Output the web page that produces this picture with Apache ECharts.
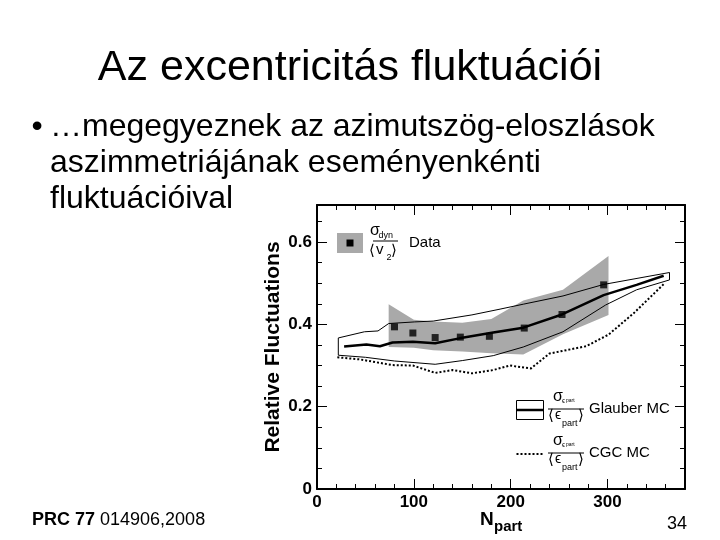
<!DOCTYPE html>
<html>
<head>
<meta charset="utf-8">
<script src="https://cdn.jsdelivr.net/npm/echarts@6/dist/echarts.min.js"></script>
<style>
  html, body { margin: 0; padding: 0; background: #fff; }
  #chart { width: 720px; height: 540px; }
</style>
</head>
<body>
<div id="chart"></div>
<script>
// data (N_part vs relative fluctuations)
var dataX = [80, 99, 122, 148, 178, 214, 253, 296];
var dataY = [0.394, 0.379, 0.368, 0.369, 0.371, 0.391, 0.424, 0.496];
// grey systematic band around the data
var sysX = [74, 100, 120, 150, 180, 213, 254, 301];
var sysHigh = [0.449, 0.411, 0.407, 0.404, 0.413, 0.458, 0.484, 0.566];
var sysLow = [0.345, 0.343, 0.337, 0.334, 0.330, 0.327, 0.376, 0.423];
// Glauber MC: mean line and band edges
var glauberX = [28, 51, 65, 78, 99, 122, 147, 182, 213, 253, 296, 330, 358];
var glauberMean = [0.346, 0.351, 0.347, 0.356, 0.358, 0.354, 0.366, 0.380, 0.392, 0.424, 0.471, 0.496, 0.518];
var glauberUpX = [22, 49, 63, 74, 101, 120, 160, 189, 213, 254, 296, 364];
var glauberUp = [0.367, 0.382, 0.384, 0.402, 0.406, 0.408, 0.423, 0.437, 0.449, 0.469, 0.497, 0.526];
var glauberLowX = [22, 50, 80, 122, 150, 182, 213, 254, 298, 330, 364];
var glauberLow = [0.325, 0.320, 0.311, 0.303, 0.312, 0.324, 0.345, 0.382, 0.447, 0.484, 0.508];
// CGC MC
var cgcX = [21, 44, 78, 99, 122, 140, 160, 182, 199, 221, 240, 278, 301, 327, 359];
var cgcY = [0.320, 0.315, 0.301, 0.300, 0.282, 0.289, 0.281, 0.289, 0.300, 0.293, 0.329, 0.347, 0.375, 0.427, 0.500];

var xTicks = [0, 100, 200, 300];
var yTicks = [0, 0.2, 0.4, 0.6];

var X_MAX = 380;
var Y_MAX = 0.69;
var FONT = '"Liberation Sans", Arial, Helvetica, sans-serif';
var MATH = '"Liberation Sans", "DejaVu Sans", sans-serif';

function pairs(xs, ys) {
    var out = [];
    for (var i = 0; i < xs.length; ++i) {
        out.push([xs[i], ys[i]]);
    }
    return out;
}

function makeX(position, interval, tickLen, main) {
    return {
        type: 'value', min: 0, max: X_MAX, interval: interval, position: position,
        axisLine: { show: main, onZero: false, lineStyle: { color: '#000', width: 2 } },
        axisTick: { show: true, inside: true, length: tickLen, lineStyle: { color: '#000', width: 1 } },
        axisLabel: { show: false },
        splitLine: { show: false }
    };
}
function makeY(position, interval, tickLen, main) {
    return {
        type: 'value', min: 0, max: Y_MAX, interval: interval, position: position,
        axisLine: { show: main, onZero: false, lineStyle: { color: '#000', width: 2 } },
        axisTick: { show: true, inside: true, length: tickLen, lineStyle: { color: '#000', width: 1 } },
        axisLabel: { show: false },
        splitLine: { show: false }
    };
}

var xMain = makeX('bottom', 100, 10, true);
xMain.axisLabel = {
    show: true, margin: 5, color: '#000', fontFamily: FONT, fontWeight: 'bold', fontSize: 17,
    showMaxLabel: false,
    formatter: function (v) { return xTicks.indexOf(v) >= 0 ? String(v) : ''; }
};
var yMain = makeY('left', 0.2, 10, true);
yMain.axisLabel = {
    show: true, margin: 5, color: '#000', fontFamily: FONT, fontWeight: 'bold', fontSize: 17,
    showMaxLabel: false,
    formatter: function (v) {
        for (var i = 0; i < yTicks.length; ++i) {
            if (Math.abs(v - yTicks[i]) < 1e-6) return v === 0 ? '0' : v.toFixed(1);
        }
        return '';
    }
};
yMain.name = 'Relative Fluctuations';
yMain.nameLocation = 'middle';
yMain.nameRotate = 90;
yMain.nameGap = 33;
yMain.nameMoveOverlap = false;
yMain.nameTextStyle = { color: '#000', fontFamily: FONT, fontWeight: 'bold', fontSize: 21 };

function txt(x, y, s, size, extra) {
    var style = { text: s, fontSize: size, fontFamily: FONT, fill: '#000', align: 'left', verticalAlign: 'middle' };
    for (var k in extra) style[k] = extra[k];
    return { type: 'text', x: x, y: y, z: 100, style: style };
}
function hline(x1, x2, y, w, dash) {
    return {
        type: 'line', z: 100,
        shape: { x1: x1, y1: y, x2: x2, y2: y },
        style: { stroke: '#000', lineWidth: w, lineDash: dash || null }
    };
}
// sigma_eps_part / <eps_part> with bar at height yb
function epsFrac(yb) {
    return [
        txt(553, yb - 12, 'σ', 16, { fontFamily: MATH }),
        txt(562, yb - 8, 'ϵ', 7, { fontFamily: MATH }),
        txt(566, yb - 8, 'part', 5),
        hline(548, 584, yb, 1),
        txt(548, yb + 7, '⟨', 15, { fontFamily: MATH }),
        txt(555, yb + 6, 'ϵ', 14, { fontFamily: MATH }),
        txt(562, yb + 15, 'part', 9),
        txt(578, yb + 7, '⟩', 15, { fontFamily: MATH })
    ];
}

var graphics = [
    txt(350, 68, 'Az excentricitás fluktuációi', 43, { align: 'center' }),
    txt(37, 127, '•', 32, { align: 'center' }),
    txt(50, 127, '…megegyeznek az azimutszög-eloszlások', 32),
    txt(50, 163, 'aszimmetriájának eseményenkénti', 32),
    txt(50, 199, 'fluktuációival', 32),
    {
        type: 'text', x: 32, y: 520, z: 100,
        style: {
            text: '{b|PRC 77} 014906,2008', fontSize: 18, fontFamily: FONT, fill: '#000',
            align: 'left', verticalAlign: 'middle',
            rich: { b: { fontSize: 18, fontFamily: FONT, fontWeight: 'bold', fill: '#000' } }
        }
    },
    txt(687, 524, '34', 18, { align: 'right' }),
    txt(480, 519.5, 'N', 19, { fontWeight: 'bold' }),
    txt(494, 527, 'part', 15, { fontWeight: 'bold' }),
    // data legend
    { type: 'rect', z: 100, shape: { x: 337, y: 233, width: 26, height: 20 }, style: { fill: '#a9a9a9' } },
    { type: 'rect', z: 101, shape: { x: 346.5, y: 239.5, width: 7, height: 7 }, style: { fill: '#000' } },
    txt(370, 231, 'σ', 16, { fontFamily: MATH }),
    txt(378.5, 235.5, 'dyn', 9),
    hline(373, 398, 241, 1),
    txt(369, 251, '⟨', 15, { fontFamily: MATH }),
    txt(376, 250, 'v', 15),
    txt(386.5, 258, '2', 9),
    txt(391, 251, '⟩', 15, { fontFamily: MATH }),
    txt(409, 243, 'Data', 15),
    // Glauber legend
    { type: 'rect', z: 100, shape: { x: 516.5, y: 400.5, width: 27, height: 19 }, style: { fill: null, stroke: '#000', lineWidth: 1 } },
    hline(516.5, 543.5, 410, 2.5),
    txt(589, 409, 'Glauber MC', 15),
    // CGC legend
    hline(516.5, 543.5, 454, 2, [2, 2]),
    txt(589, 453, 'CGC MC', 15)
].concat(epsFrac(409)).concat(epsFrac(453));

var option = {
    animation: false,
    backgroundColor: '#fff',
    grid: { left: 317, top: 205, width: 368, height: 284, containLabel: false },
    xAxis: [
        xMain,
        makeX('bottom', 20, 5, false),
        makeX('top', 100, 10, true),
        makeX('top', 20, 5, false)
    ],
    yAxis: [
        yMain,
        makeY('left', 0.05, 5, false),
        makeY('right', 0.2, 10, true),
        makeY('right', 0.05, 5, false)
    ],
    series: [
        {
            type: 'custom', z: 1, silent: true,
            renderItem: function (params, api) {
                var pts = [];
                for (var i = 0; i < sysX.length; ++i) pts.push(api.coord([sysX[i], sysHigh[i]]));
                for (var j = sysX.length - 1; j >= 0; --j) pts.push(api.coord([sysX[j], sysLow[j]]));
                return { type: 'polygon', shape: { points: pts }, style: { fill: '#a9a9a9' } };
            },
            data: [[0, 0]]
        },
        {
            type: 'custom', z: 2, silent: true,
            renderItem: function (params, api) {
                var pts = [];
                for (var i = 0; i < glauberUpX.length; ++i) pts.push(api.coord([glauberUpX[i], glauberUp[i]]));
                for (var j = glauberLowX.length - 1; j >= 0; --j) pts.push(api.coord([glauberLowX[j], glauberLow[j]]));
                return { type: 'polygon', shape: { points: pts }, style: { fill: null, stroke: '#000', lineWidth: 1 } };
            },
            data: [[0, 0]]
        },
        {
            name: 'Glauber MC', type: 'line', z: 3, symbol: 'none',
            lineStyle: { color: '#000', width: 2.5 },
            data: pairs(glauberX, glauberMean)
        },
        {
            name: 'CGC MC', type: 'line', z: 3, symbol: 'none',
            lineStyle: { color: '#000', width: 2, type: [2, 2] },
            data: pairs(cgcX, cgcY)
        },
        {
            name: 'Data', type: 'scatter', z: 5, symbol: 'rect', symbolSize: 7,
            itemStyle: { color: '#000' },
            data: pairs(dataX, dataY)
        }
    ],
    graphic: graphics
};

echarts.init(document.getElementById('chart')).setOption(option);
</script>
</body>
</html>
